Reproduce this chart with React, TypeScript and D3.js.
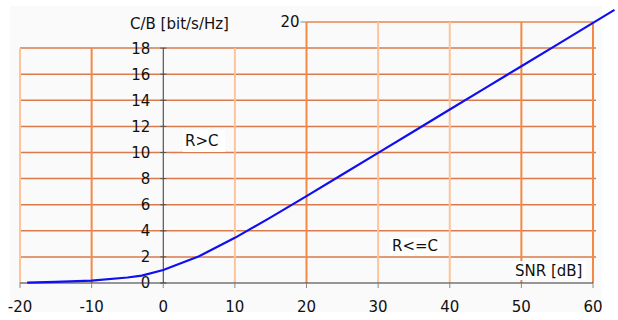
import React from 'react';
import * as d3 from 'd3';

// SNR in dB vs. normalized capacity C/B
const snrDb = [-19, -15, -10, -5, -3, 0, 5, 10, 15, 20, 25, 30, 35, 40, 45, 50, 55, 60, 63];
const capacity = [0.03, 0.08, 0.18, 0.42, 0.57, 1.0, 2.05, 3.46, 5.03, 6.66, 8.31, 9.97, 11.63, 13.29, 14.95, 16.61, 18.27, 19.93, 20.93];

const xTicks = [-20, -10, 0, 10, 20, 30, 40, 50, 60];
const yTicks = [0, 2, 4, 6, 8, 10, 12, 14, 16, 18];

const W = 618;
const H = 320;
const font = '"DejaVu Sans", Verdana, sans-serif';

const App = () => {
  const x = d3.scaleLinear().domain([-20, 60]).range([20, 593]);
  const y = d3.scaleLinear().domain([0, 20]).range([283, 22]);

  const line = d3.line<number>()
    .x((_, i) => x(snrDb[i]))
    .y(d => y(d));

  // vertical grid colours look uneven in the original image
  const vColor = (v: number) =>
    [-20, 10, 30, 40].includes(v) ? '#fdc49c' : '#f28a44';

  return (
    <svg width={W} height={H} style={{ position: 'absolute', left: 0, top: 0 }}
      fontFamily={font} fontSize={15}>
      <rect x={0} y={0} width={W} height={H} fill="#fff" />
      <rect x={10} y={6} width={592} height={306} fill="#fafafa" />

      {/* horizontal grid */}
      {yTicks.filter(v => v > 0).map(v => (
        <line key={'h' + v} x1={x(-20)} x2={x(60) + 3} y1={y(v)} y2={y(v)}
          stroke="#d97a4c" strokeWidth={1.5} />
      ))}
      <line x1={x(20)} x2={x(60)} y1={y(20)} y2={y(20)} stroke="#e8864c" strokeWidth={1.5} />

      {/* vertical grid */}
      {xTicks.filter(v => v !== 0).map(v => (
        <line key={'v' + v} x1={x(v)} x2={x(v)} y1={y(0)} y2={v >= 20 ? y(20) : y(18)}
          stroke={vColor(v)} strokeWidth={2} />
      ))}

      {/* white patches behind labels */}
      <rect x={183} y={130} width={42} height={22} fill="#fff" />
      <rect x={390} y={238} width={50} height={18} fill="#fff" />
      <rect x={512} y={261} width={74} height={19} fill="#fff" />

      {/* y axis */}
      <line x1={x(0)} x2={x(0)} y1={y(0)} y2={y(18)} stroke="#333" strokeWidth={1} />
      {yTicks.map(v => (
        <g key={'yt' + v}>
          <line x1={x(0) - 3} x2={x(0) + 3} y1={y(v)} y2={y(v)} stroke="#555" />
          <text x={x(0) - 13} y={y(v)} dy="0.36em" textAnchor="end" fill="#111">{v}</text>
        </g>
      ))}
      <line x1={x(20) - 6} x2={x(20)} y1={y(20)} y2={y(20)} stroke="#888" />
      <text x={x(20) - 7} y={y(20)} dy="0.36em" textAnchor="end" fill="#111">20</text>

      {/* x axis */}
      <line x1={x(-20)} x2={x(60)} y1={y(0)} y2={y(0)} stroke="#333" strokeWidth={1} />
      {xTicks.map(v => (
        <g key={'xt' + v}>
          <line x1={x(v)} x2={x(v)} y1={y(0)} y2={y(0) + 5} stroke="#888" />
          <text x={x(v)} y={312} textAnchor="middle" fill="#111">{v}</text>
        </g>
      ))}

      {/* curve */}
      <path d={line(capacity) || ''} fill="none" stroke="#0f0ff0" strokeWidth={2.2} />

      {/* labels */}
      <text x={130} y={29} fill="#111">C/B [bit/s/Hz]</text>
      <text x={185} y={146} fill="#111">R&gt;C</text>
      <text x={392} y={251} fill="#111">R&lt;=C</text>
      <text x={515} y={276} fill="#111">SNR [dB]</text>
    </svg>
  );
};

export default App;
